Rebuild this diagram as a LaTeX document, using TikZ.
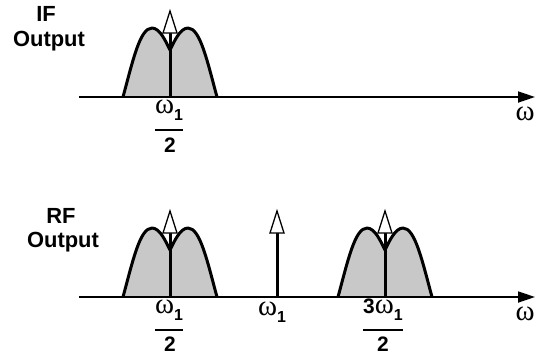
\documentclass[tikz,border=0pt]{standalone}
\usepackage{fontspec}
\setmainfont{Liberation Sans}
\newfontfamily\symf{Liberation Serif}
\usetikzlibrary{arrows.meta}
\newcommand{\om}{{\symf\mdseries\fontsize{29}{29}\selectfont ω}}
\newcommand{\one}{\raisebox{-7bp}{\fontsize{16}{16}\selectfont\bfseries 1}}
\tikzset{
  lbl/.style={font=\fontsize{22}{24}\selectfont\bfseries, align=center, inner sep=0pt},
  axis/.style={line width=1.8bp, -{Triangle[length=17bp,width=11bp]}},
  hump/.style={line width=3bp, fill={rgb,255:red,200;green,200;blue,200}, line join=round},
  stem/.style={line width=3bp},
  head/.style={line width=1.3bp, fill=white, line join=miter},
  frac/.style={inner sep=0pt, anchor=base, font=\fontsize{21}{21}\selectfont\bfseries},
  bar/.style={line width=1.3bp},
}
\begin{document}
\begin{tikzpicture}[x=1bp,y=-1bp]
\useasboundingbox (0,0) rectangle (535,355);
% labels
\node[lbl] (if) at (46,14) {IF};
\node[lbl] (ifo) at (49,41) {Output};
\node[lbl] (rf) at (61,216) {RF};
\node[lbl] (rfo) at (63,242) {Output};
% humps
\foreach \cx/\by in {170/97, 170/297, 385/297}{
  \draw[hump] (\cx-47,\by) .. controls (\cx-37,\by-37) and (\cx-30,\by-69) .. (\cx-18,\by-69)
     .. controls (\cx-10,\by-69) and (\cx-4,\by-55) .. (\cx,\by-47)
     .. controls (\cx+4,\by-55) and (\cx+10,\by-69) .. (\cx+18,\by-69)
     .. controls (\cx+30,\by-69) and (\cx+37,\by-37) .. (\cx+47,\by);
}
% impulses
\foreach \cx/\by in {170/97, 170/297, 277/297, 385/297}{
  \draw[stem] (\cx,\by) -- (\cx,\by-64);
  \draw[head] (\cx-7,\by-64) -- (\cx+7,\by-64) -- (\cx,\by-86) -- cycle;
}
% axes
\coordinate (a1s) at (79,97); \coordinate (a1e) at (535,97);
\coordinate (a2s) at (79,297); \coordinate (a2e) at (535,297);
\draw[axis] (a1s) -- (a1e);
\draw[axis] (a2s) -- (a2e);
\node[frac] (w1) at (525,120) {\om};
\node[frac] (w2) at (525,320) {\om};
% fractions
\node[frac] (n1) at (169,113) {\om\one};
\draw[bar] (155,130) -- (183,130);
\node[frac] (d1) at (170,152) {2};
\node[frac] (n2) at (169,313) {\om\one};
\draw[bar] (155,330) -- (183,330);
\node[frac] (d2) at (170,351) {2};
\node[frac] (m1) at (272,315) {\om\one};
\node[frac] (n3) at (383,313) {3\om\one};
\draw[bar] (363,330) -- (403,330);
\node[frac] (d3) at (383,351) {2};
\end{tikzpicture}
\end{document}
